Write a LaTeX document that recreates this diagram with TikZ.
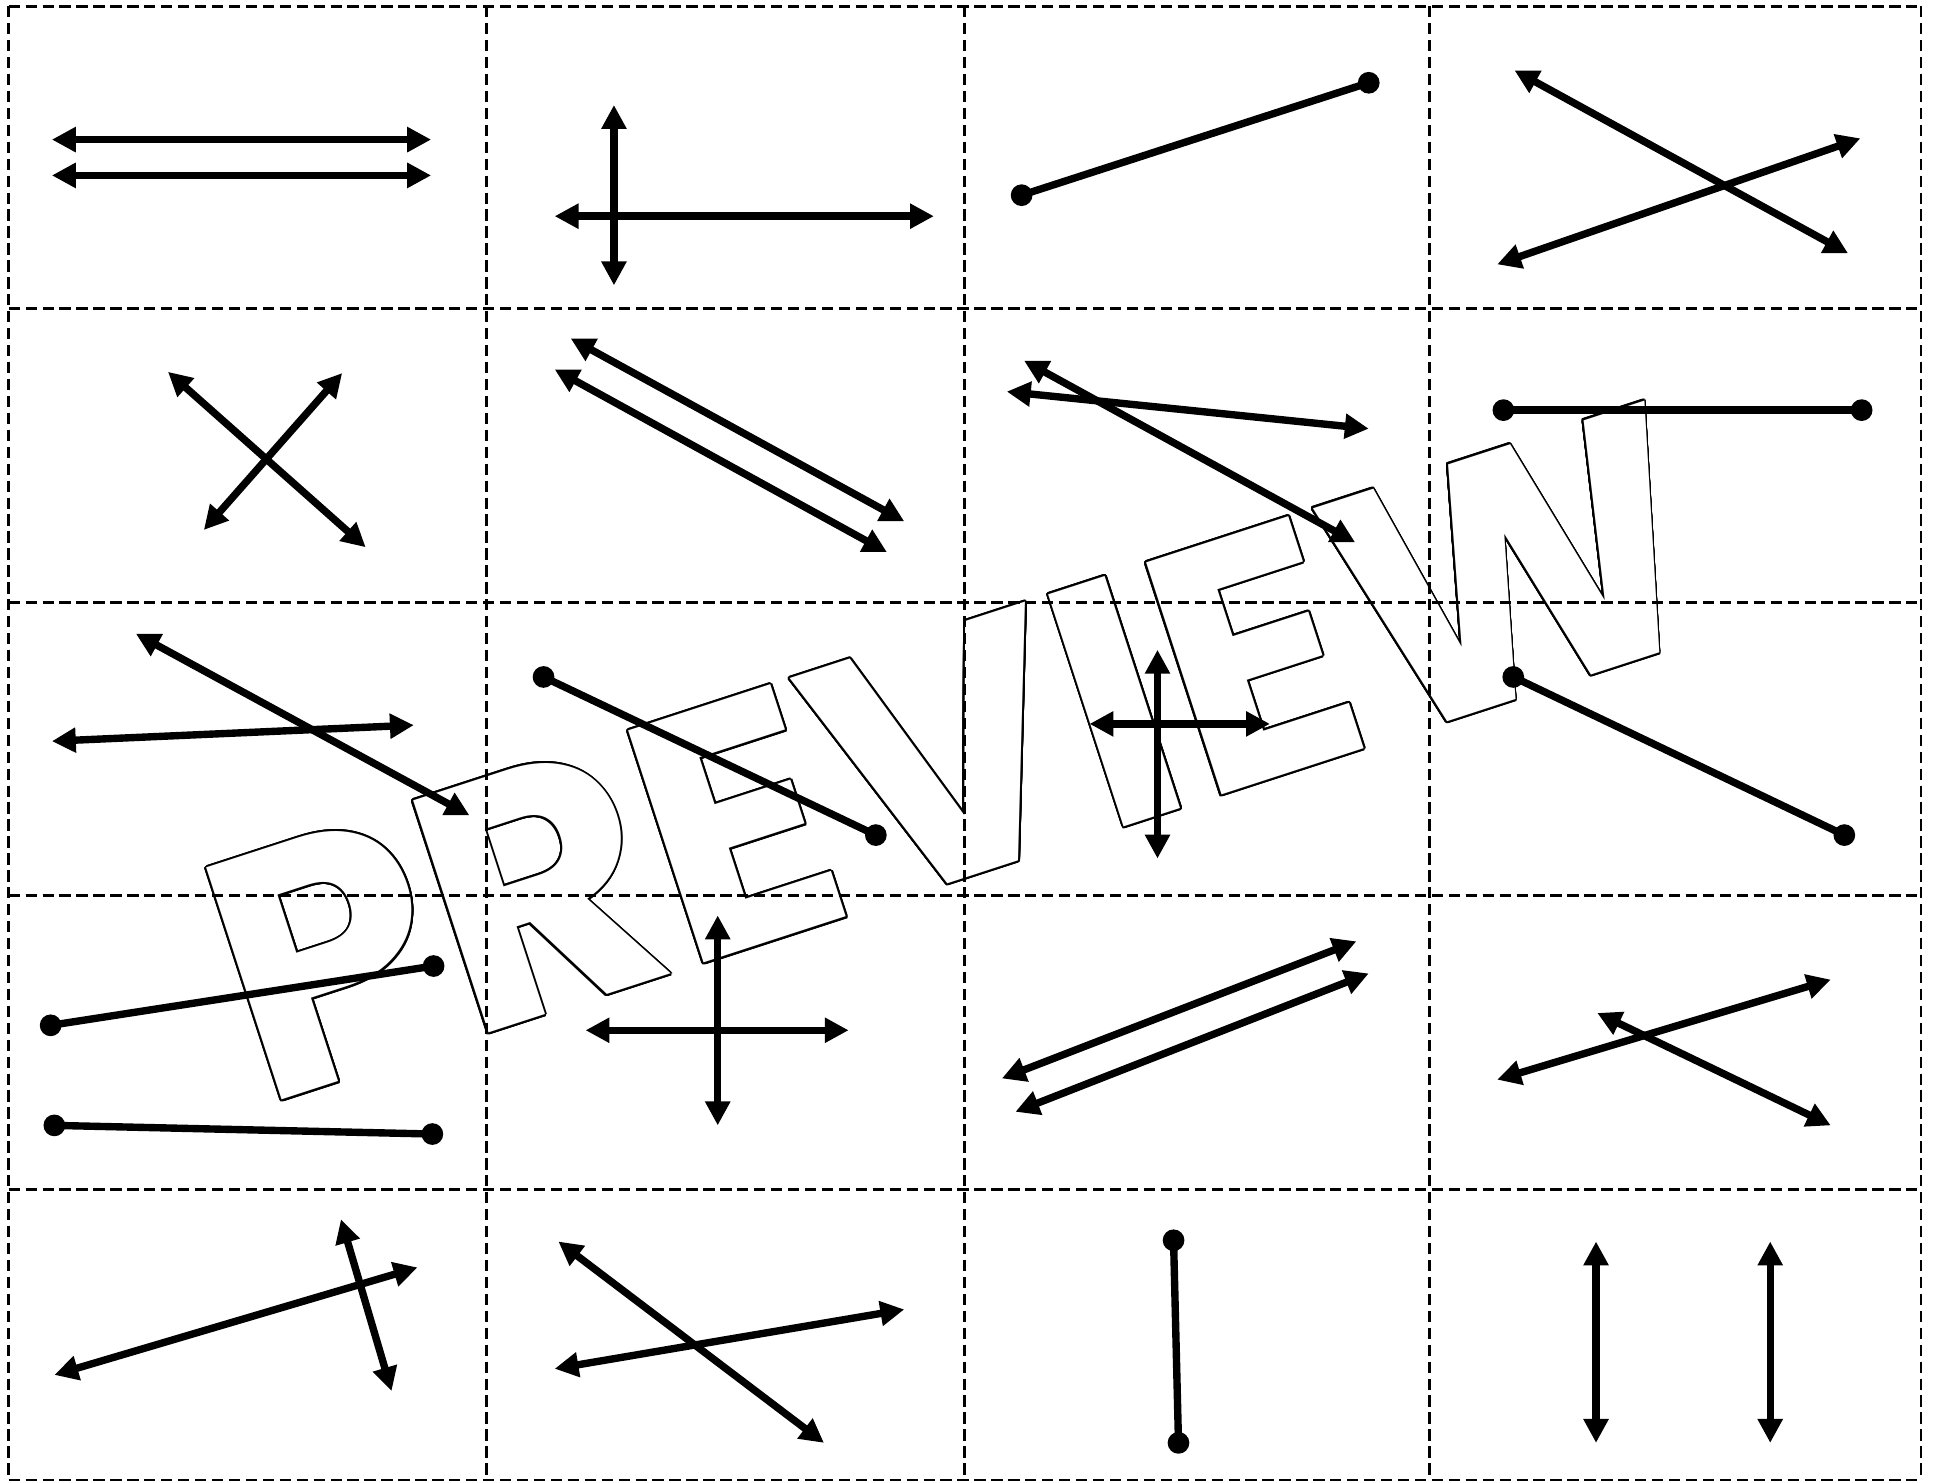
\documentclass[tikz,border=0pt]{standalone}
\usepackage{fontspec}
\usepackage[copies]{contour}
\usetikzlibrary{arrows.meta}
\newfontfamily\markfont{Poppins}
\contourlength{0.45pt}
\contournumber{24}

\tikzset{
	line2/.style={line width=1.7pt,
		{Triangle[length=5.5pt,width=5.5pt]}-{Triangle[length=5.5pt,width=5.5pt]}},
	seg/.style={line width=1.7pt},
	dot/.style={circle, fill, inner sep=0pt, minimum size=5pt},
	cutline/.style={line width=0.65pt, dash pattern=on 2.6pt off 1.3pt}
}

\begin{document}
\begin{tikzpicture}[x=0.01cm, y=-0.01cm]

\useasboundingbox (0,0) rectangle (1568,1200);

% Watermark
\node [rotate=18,
	inner sep=0pt] (mark) at (775,610)
	{\contour{black}{\color{white}\markfont\bfseries\fontsize{80}{80}\selectfont PREVIEW}};

% Cut lines
\foreach \x in {7,394,781,1157,1555}
	\draw [cutline] (\x,5) -- (\x,1198);
\foreach \y in {5,250,488,725,963,1198}
	\draw [cutline] (7,\y) -- (1555,\y);

% Row 1
\coordinate (a1) at (42,113);  \coordinate (b1) at (349,113);
\coordinate (a2) at (42,142);  \coordinate (b2) at (349,142);
\draw [line2] (a1) -- (b1);
\draw [line2] (a2) -- (b2);

\coordinate (c1) at (497,85);  \coordinate (d1) at (497,231);
\coordinate (c2) at (449,175); \coordinate (d2) at (756,175);
\draw [line2] (c1) -- (d1);
\draw [line2] (c2) -- (d2);

\node [dot] (e1) at (827,158) {};
\node [dot] (f1) at (1108,67) {};
\draw [seg] (e1.center) -- (f1.center);

\coordinate (g1) at (1226,57);  \coordinate (h1) at (1496,205);
\coordinate (g2) at (1212,214); \coordinate (h2) at (1506,112);
\draw [line2] (g1) -- (h1);
\draw [line2] (g2) -- (h2);

% Row 2
\coordinate (i1) at (136,301); \coordinate (j1) at (296,443);
\coordinate (i2) at (277,302); \coordinate (j2) at (165,429);
\draw [line2] (i1) -- (j1);
\draw [line2] (i2) -- (j2);

\coordinate (k1) at (462,274); \coordinate (l1) at (732,422);
\coordinate (k2) at (449,299); \coordinate (l2) at (718,447);
\draw [line2] (k1) -- (l1);
\draw [line2] (k2) -- (l2);

\coordinate (m1) at (815,317); \coordinate (n1) at (1108,347);
\coordinate (m2) at (829,292); \coordinate (n2) at (1097,439);
\draw [line2] (m1) -- (n1);
\draw [line2] (m2) -- (n2);

\node [dot] (o1) at (1217,332) {};
\node [dot] (p1) at (1507,332) {};
\draw [seg] (o1.center) -- (p1.center);

% Row 3
\coordinate (q1) at (42,600);  \coordinate (r1) at (335,587);
\coordinate (q2) at (110,513); \coordinate (r2) at (380,660);
\draw [line2] (q1) -- (r1);
\draw [line2] (q2) -- (r2);

\node [dot] (s1) at (440,548) {};
\node [dot] (t1) at (709,676) {};
\draw [seg] (s1.center) -- (t1.center);

\coordinate (u1) at (937,526); \coordinate (v1) at (937,695);
\coordinate (u2) at (882,586); \coordinate (v2) at (1028,586);
\draw [line2] (u1) -- (v1);
\draw [line2] (u2) -- (v2);

\node [dot] (w1) at (1225,548) {};
\node [dot] (x1) at (1493,676) {};
\draw [seg] (w1.center) -- (x1.center);

% Row 4
\node [dot] (s2) at (41,830) {};
\node [dot] (t2) at (351,782) {};
\draw [seg] (s2.center) -- (t2.center);
\node [dot] (s3) at (44,911) {};
\node [dot] (t3) at (350,918) {};
\draw [seg] (s3.center) -- (t3.center);

\coordinate (u3) at (581,741); \coordinate (v3) at (581,911);
\coordinate (u4) at (474,834); \coordinate (v4) at (687,834);
\draw [line2] (u3) -- (v3);
\draw [line2] (u4) -- (v4);

\coordinate (k3) at (811,873); \coordinate (l3) at (1098,762);
\coordinate (k4) at (822,900); \coordinate (l4) at (1108,788);
\draw [line2] (k3) -- (l3);
\draw [line2] (k4) -- (l4);

\coordinate (g3) at (1212,874); \coordinate (h3) at (1482,793);
\coordinate (g4) at (1293,820); \coordinate (h4) at (1482,911);
\draw [line2] (g3) -- (h3);
\draw [line2] (g4) -- (h4);

% Row 5
\coordinate (i3) at (44,1113);  \coordinate (j3) at (338,1026);
\coordinate (i4) at (276,987);  \coordinate (j4) at (317,1126);
\draw [line2] (i3) -- (j3);
\draw [line2] (i4) -- (j4);

\coordinate (m3) at (452,1005); \coordinate (n3) at (667,1168);
\coordinate (m4) at (449,1108); \coordinate (n4) at (732,1060);
\draw [line2] (m3) -- (n3);
\draw [line2] (m4) -- (n4);

\node [dot] (e2) at (950,1004) {};
\node [dot] (f2) at (954,1168) {};
\draw [seg] (e2.center) -- (f2.center);

\coordinate (c3) at (1292,1005); \coordinate (d3) at (1292,1168);
\coordinate (c4) at (1433,1005); \coordinate (d4) at (1433,1168);
\draw [line2] (c3) -- (d3);
\draw [line2] (c4) -- (d4);

\end{tikzpicture}
\end{document}
